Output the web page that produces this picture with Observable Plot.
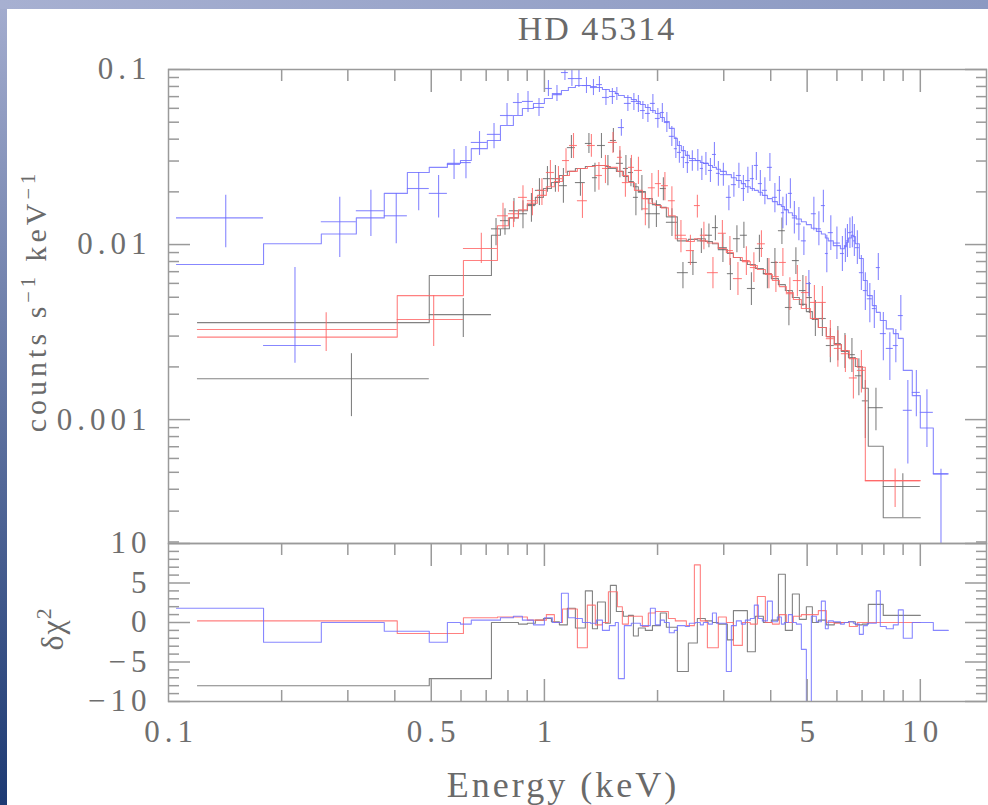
<!DOCTYPE html>
<html>
<head>
<meta charset="utf-8">
<script src="https://cdn.jsdelivr.net/npm/d3@7"></script>
<script src="https://cdn.jsdelivr.net/npm/@observablehq/plot@0.6"></script>
<style>
  html, body { margin: 0; padding: 0; background: #fff; }
  #page { position: relative; width: 988px; height: 805px; overflow: hidden; background: #fff; }
  #leftband { position: absolute; left: 0; top: 0; width: 7px; height: 805px; background: linear-gradient(to bottom, #a4adcf, #1d3a73); }
  #topband { position: absolute; left: 0; top: 0; width: 988px; height: 9px; background: linear-gradient(to right, #a7b0d1, #8b99c2); }
  .abs { position: absolute; white-space: nowrap; font-family: "Liberation Serif", serif; color: #6a6a6a; }
  .abs sup { font-size: 0.68em; vertical-align: 0.55em; line-height: 0; }
  .plot { position: absolute; left: 0; }
  .plot svg { overflow: visible; }
</style>
</head>
<body>
<div id="page">
  <div id="leftband"></div>
  <div id="topband"></div>
</div>
<script>
// ---------------- DATA ----------------
// Energies in keV; rates in counts s^-1 keV^-1
// Black spectrum
const blackEdges = [0.1194, 0.494, 0.723, 0.764, 0.807, 0.853, 0.901, 0.9464, 0.9939, 1.044, 1.096, 1.151, 1.209, 1.285, 1.342, 1.384, 1.453, 1.498, 1.554, 1.622, 1.673, 1.725, 1.778, 1.856, 1.938, 2.034, 2.111, 2.258, 2.415, 2.552, 2.68, 2.799, 2.902, 3.067, 3.183, 3.321, 3.467, 3.641, 3.824, 4.015, 4.193, 4.375, 4.567, 4.767, 4.976, 5.162, 5.355, 5.623, 5.905, 6.165, 6.44, 6.717, 7.011, 7.272, 7.97, 10];
const blackRate = [0.00171, 0.00398, 0.0123, 0.0137, 0.0156, 0.015, 0.0167, 0.0204, 0.0238, 0.0238, 0.0217, 0.0358, 0.0226, 0.0378, 0.0241, 0.0368, 0.0272, 0.0393, 0.0291, 0.0272, 0.0258, 0.0186, 0.0199, 0.015, 0.015, 0.0209, 0.0134, 0.00691, 0.0079, 0.0105, 0.0113, 0.0125, 0.0096, 0.00682, 0.0108, 0.0113, 0.00561, 0.0095, 0.00682, 0.0079, 0.012, 0.00437, 0.0081, 0.00546, 0.00498, 0.00378, 0.00378, 0.00265, 0.00272, 0.00248, 0.00235, 0.00178, 0.00128, 0.00117, 0.000415];
const blackErrHigh = [0.00238, 0.00492, 0.0141, 0.016, 0.0183, 0.0178, 0.0196, 0.0238, 0.0279, 0.0283, 0.0272, 0.042, 0.0272, 0.0431, 0.0291, 0.0431, 0.0323, 0.046, 0.0344, 0.0323, 0.031, 0.0223, 0.0248, 0.0183, 0.0178, 0.0241, 0.016, 0.0079, 0.00924, 0.0123, 0.0131, 0.0146, 0.0115, 0.00832, 0.0128, 0.0134, 0.00691, 0.0113, 0.00832, 0.0095, 0.0142, 0.00546, 0.0096, 0.00665, 0.00607, 0.00479, 0.00467, 0.00331, 0.0034, 0.0031, 0.00291, 0.00223, 0.00167, 0.00151, 0.00049];
const blackErrLow = [0.00104, 0.00294, 0.00986, 0.0113, 0.0134, 0.0123, 0.0134, 0.0167, 0.0199, 0.0199, 0.0172, 0.031, 0.0189, 0.0331, 0.0199, 0.031, 0.0217, 0.0336, 0.0241, 0.0226, 0.0214, 0.0146, 0.0156, 0.0123, 0.0125, 0.0178, 0.0111, 0.0056, 0.00665, 0.00889, 0.0096, 0.0105, 0.0079, 0.00546, 0.00899, 0.0095, 0.00448, 0.0079, 0.0056, 0.00656, 0.01, 0.00344, 0.00674, 0.00442, 0.00404, 0.00298, 0.00298, 0.00211, 0.00217, 0.00196, 0.00186, 0.00137, 0.00078, 0.000865, 0.000275];
const blackModel = [0.00358, 0.00665, 0.0113, 0.0123, 0.0142, 0.0156, 0.0169, 0.0186, 0.0209, 0.0226, 0.0248, 0.0262, 0.0272, 0.0279, 0.0283, 0.0283, 0.0279, 0.0272, 0.0262, 0.0245, 0.0229, 0.0214, 0.0201, 0.0183, 0.0169, 0.0163, 0.0144, 0.0105, 0.0107, 0.0108, 0.0104, 0.0101, 0.00935, 0.00889, 0.00843, 0.0081, 0.00769, 0.0073, 0.00682, 0.00639, 0.0059, 0.00546, 0.00498, 0.00455, 0.00414, 0.00373, 0.00336, 0.00298, 0.00268, 0.00245, 0.00226, 0.00201, 0.00151, 0.000705, 0.000275];
const blackDelChi = [-8, -7.1, 0, 0, 0, -0.2, -0.1, 0.3, 0.5, 0.1, -0.3, 1.8, -0.7, 4, -0.8, 2.6, -0.1, 4.7, 1.4, 0.8, 0.9, -1.7, -0.7, -1.0, -0.4, 1.2, -0.6, -6.2, -2.6, 0.5, 0.2, 0, -0.2, -2.2, 1.5, 1.5, -3.7, 0.8, 0, 0.3, 6.1, -1.0, 3.6, 0.4, 2, 0, 0.3, -0.3, 0, 0, 0.1, -0.3, -0.2, 2.3, 0.9];

// Red spectrum
const redEdges = [0.1194, 0.406, 0.609, 0.75, 0.802, 0.853, 0.901, 0.958, 1.012, 1.063, 1.117, 1.166, 1.224, 1.301, 1.366, 1.427, 1.48, 1.564, 1.612, 1.673, 1.736, 1.822, 1.89, 1.973, 2.047, 2.137, 2.23, 2.386, 2.506, 2.599, 2.714, 2.902, 3.048, 3.183, 3.362, 3.53, 3.686, 3.871, 4.041, 4.217, 4.402, 4.594, 4.826, 5.10, 5.355, 5.623, 5.905, 6.165, 6.476, 6.8, 7.141, 10];
const redRate = [0.00327, 0.00373, 0.0095, 0.0146, 0.015, 0.0186, 0.0178, 0.0204, 0.0258, 0.0238, 0.0302, 0.0368, 0.0178, 0.0368, 0.0248, 0.0272, 0.0383, 0.0315, 0.0226, 0.0276, 0.0265, 0.016, 0.0211, 0.0223, 0.0217, 0.0178, 0.0113, 0.00924, 0.0167, 0.0113, 0.00691, 0.0116, 0.00924, 0.00639, 0.0081, 0.00739, 0.0101, 0.00682, 0.00656, 0.0079, 0.00524, 0.00623, 0.00532, 0.00467, 0.00467, 0.0029, 0.00255, 0.00238, 0.00173, 0.00191, 0.000448];
const redErrHigh = [0.00408, 0.00511, 0.0116, 0.0172, 0.0176, 0.0217, 0.0209, 0.0238, 0.0302, 0.0279, 0.0353, 0.0431, 0.0223, 0.0425, 0.0294, 0.0323, 0.0437, 0.0363, 0.0272, 0.0323, 0.0315, 0.0196, 0.0255, 0.0265, 0.0258, 0.0214, 0.0137, 0.0113, 0.0191, 0.0134, 0.00843, 0.0137, 0.0111, 0.0079, 0.00973, 0.00899, 0.012, 0.00832, 0.008, 0.0095, 0.00647, 0.00759, 0.00656, 0.00583, 0.00575, 0.00368, 0.00322, 0.00302, 0.00226, 0.00248, 0.000523];
const redErrLow = [0.00245, 0.00262, 0.0078, 0.0123, 0.0125, 0.0152, 0.0146, 0.0167, 0.0214, 0.0199, 0.0255, 0.031, 0.0141, 0.0315, 0.0204, 0.0223, 0.0331, 0.0265, 0.0186, 0.0232, 0.022, 0.0128, 0.0174, 0.0186, 0.0178, 0.0146, 0.00899, 0.00759, 0.0142, 0.00935, 0.0056, 0.0096, 0.00759, 0.00511, 0.00665, 0.00607, 0.00843, 0.0056, 0.00532, 0.00656, 0.0042, 0.00504, 0.00425, 0.00368, 0.00368, 0.00226, 0.00199, 0.00186, 0.00131, 0.00142, 0.000315];
const redModel = [0.00296, 0.00511, 0.0081, 0.0128, 0.0142, 0.0158, 0.0172, 0.0191, 0.0214, 0.0229, 0.0248, 0.0262, 0.0272, 0.0279, 0.0283, 0.0283, 0.0276, 0.0262, 0.0248, 0.0226, 0.0204, 0.0183, 0.0172, 0.0167, 0.0162, 0.0146, 0.0108, 0.0104, 0.0108, 0.0105, 0.0102, 0.0095, 0.009, 0.00843, 0.00799, 0.00759, 0.0072, 0.00674, 0.00623, 0.00575, 0.00532, 0.00485, 0.00431, 0.00378, 0.00336, 0.00298, 0.00268, 0.00248, 0.00223, 0.00199, 0.000448];
const redDelChi = [0.2, -1.4, 0.6, 0.7, 0.7, 0.7, 0.3, 0.3, 1, 0, 1.7, 1.7, -3.2, 2.2, -0.3, 0, 3.9, 2, -0.2, 0.8, 0.8, -0.5, 1.2, 1.4, 1.4, 0.5, 0.2, -0.4, 7.3, 0.2, -3.2, 0.7, 0, -2.9, 0, -0.2, 3.3, 0, -0.2, 1, 0, 0.8, 1, 1, 1.5, 0, -0.1, 0, -0.5, 0, 0];

// Blue spectrum
const blueEdges = [0.105, 0.179, 0.255, 0.316, 0.375, 0.432, 0.494, 0.552, 0.598, 0.639, 0.705, 0.764, 0.827, 0.874, 0.935, 1.0, 1.05, 1.11, 1.158, 1.209, 1.262, 1.326, 1.375, 1.427, 1.489, 1.544, 1.573, 1.632, 1.703, 1.757, 1.8, 1.856, 1.914, 1.973, 2.034, 2.085, 2.149, 2.216, 2.258, 2.314, 2.371, 2.43, 2.52, 2.599, 2.648, 2.731, 2.799, 2.868, 2.938, 3.048, 3.143, 3.241, 3.342, 3.425, 3.53, 3.618, 3.708, 3.8, 3.919, 4.041, 4.166, 4.27, 4.349, 4.457, 4.567, 4.68, 4.826, 4.976, 5.13, 5.29, 5.455, 5.59, 5.69, 5.87, 6.13, 6.28, 6.36, 6.44, 6.556, 6.636, 6.717, 6.884, 7.054, 7.228, 7.453, 7.638, 7.827, 8.12, 8.476, 8.74, 9.01, 9.52, 10, 10.83, 11.87];
const blueRate = [0.0142, 0.00265, 0.0135, 0.0156, 0.0146, 0.0209, 0.0196, 0.0287, 0.0294, 0.0383, 0.0426, 0.0546, 0.0648, 0.0657, 0.0607, 0.0779, 0.0729, 0.0961, 0.0888, 0.0888, 0.081, 0.0789, 0.082, 0.0692, 0.0701, 0.0729, 0.0466, 0.064, 0.0657, 0.064, 0.0583, 0.0561, 0.064, 0.0525, 0.0568, 0.0498, 0.0415, 0.0353, 0.0336, 0.0315, 0.0294, 0.0302, 0.0302, 0.0272, 0.0291, 0.0265, 0.0327, 0.0255, 0.0251, 0.0186, 0.022, 0.0248, 0.0209, 0.0232, 0.0238, 0.0283, 0.0223, 0.0204, 0.0276, 0.0186, 0.0204, 0.0152, 0.0158, 0.0196, 0.0142, 0.0131, 0.0105, 0.00599, 0.015, 0.0123, 0.0167, 0.00889, 0.0117, 0.0102, 0.00889, 0.00986, 0.0105, 0.0117, 0.0118, 0.0105, 0.0096, 0.00691, 0.00546, 0.0049, 0.00431, 0.00739, 0.0031, 0.00255, 0.00265, 0.00393, 0.00113, 0.00143, 0.0011, 0.00049];
const blueErrHigh = [0.0191, 0.00739, 0.0186, 0.0204, 0.0196, 0.0258, 0.0248, 0.0349, 0.0363, 0.0442, 0.0492, 0.064, 0.0729, 0.0749, 0.0683, 0.0865, 0.081, 0.1096, 0.0987, 0.0987, 0.09, 0.0877, 0.0912, 0.0769, 0.0779, 0.0789, 0.0518, 0.071, 0.0729, 0.071, 0.0657, 0.0631, 0.0719, 0.0599, 0.064, 0.0568, 0.0473, 0.041, 0.0388, 0.0363, 0.034, 0.0344, 0.0349, 0.0319, 0.0336, 0.031, 0.0383, 0.0298, 0.0291, 0.0217, 0.0258, 0.0291, 0.0248, 0.0276, 0.0283, 0.0336, 0.0265, 0.0241, 0.0331, 0.0223, 0.0245, 0.0186, 0.0194, 0.0238, 0.0176, 0.0163, 0.0126, 0.0071, 0.0186, 0.0154, 0.0204, 0.0113, 0.0146, 0.0126, 0.0111, 0.0123, 0.013, 0.0142, 0.0144, 0.013, 0.012, 0.00865, 0.00691, 0.00599, 0.00546, 0.00889, 0.00409, 0.00313, 0.00327, 0.00511, 0.00167, 0.00191, 0.00148, 0.00052];
const blueErrLow = [0.0096, 0.0021, 0.00843, 0.0111, 0.0101, 0.0156, 0.0142, 0.0235, 0.0238, 0.0323, 0.0353, 0.0479, 0.0546, 0.0568, 0.0539, 0.0701, 0.0656, 0.0865, 0.08, 0.0789, 0.0729, 0.071, 0.0739, 0.0623, 0.0631, 0.0665, 0.0415, 0.0575, 0.0583, 0.0568, 0.0518, 0.0498, 0.0561, 0.0461, 0.0498, 0.0437, 0.0363, 0.031, 0.0291, 0.0272, 0.0255, 0.0262, 0.0262, 0.0232, 0.0248, 0.0226, 0.0279, 0.0215, 0.0215, 0.0156, 0.0186, 0.0209, 0.0176, 0.0196, 0.0201, 0.0232, 0.0189, 0.0169, 0.0229, 0.0152, 0.0167, 0.0123, 0.0128, 0.016, 0.0115, 0.0105, 0.00865, 0.00504, 0.012, 0.00986, 0.0133, 0.00691, 0.00924, 0.00821, 0.00701, 0.0079, 0.00843, 0.00949, 0.0096, 0.00854, 0.00769, 0.00546, 0.0042, 0.00357, 0.00331, 0.00623, 0.00217, 0.00167, 0.00211, 0.00322, 0.000557, 0.00104, 0.000693, 0.0001];
const blueModel = [0.00769, 0.0101, 0.0115, 0.0142, 0.0196, 0.0258, 0.0276, 0.0291, 0.0302, 0.0353, 0.0393, 0.0479, 0.0546, 0.0599, 0.064, 0.0683, 0.0719, 0.0759, 0.0789, 0.081, 0.081, 0.08, 0.0789, 0.0769, 0.0749, 0.0729, 0.071, 0.0692, 0.0674, 0.0657, 0.0631, 0.0607, 0.0583, 0.0561, 0.0532, 0.0505, 0.0461, 0.0404, 0.0368, 0.0344, 0.0323, 0.031, 0.0302, 0.0294, 0.0291, 0.0283, 0.0276, 0.0269, 0.0262, 0.0251, 0.0241, 0.0232, 0.0223, 0.0214, 0.0209, 0.0204, 0.0199, 0.0191, 0.0183, 0.0176, 0.0169, 0.0165, 0.0158, 0.0152, 0.0146, 0.014, 0.0135, 0.013, 0.0124, 0.0119, 0.0115, 0.0109, 0.0105, 0.00986, 0.00947, 0.00973, 0.0103, 0.0109, 0.0113, 0.0111, 0.0101, 0.00832, 0.00623, 0.00511, 0.00448, 0.0041, 0.00368, 0.0033, 0.0031, 0.00291, 0.00191, 0.00137, 0.000896, 0.00049];
const blueDelChi = [1.8, -2.5, 0, 0, -1.1, -1.1, -2.5, 0, -0.2, 0.3, 0.3, 0.6, 0.8, 0.3, -0.3, 0.6, 0, 3.7, 0.6, 0.5, 0, -0.1, 0.3, -1.0, -0.4, 0, -7.1, -0.4, -0.1, -0.1, -0.4, -0.4, 1.8, -0.3, 0.3, 0, -1.3, -1.0, -0.4, -0.4, -0.5, -0.1, 0, -0.3, 0, -0.2, 1.2, -0.1, -0.1, -6.2, -0.4, 0.2, -0.2, 0.3, 0.5, 2.2, 0.5, 0.2, 2.7, 0.1, 0.7, -0.2, 0, 1.0, 0, -0.2, -3.4, -20, 0.8, 0.1, 2.7, -0.8, 0.2, 0.1, -0.2, 0, 0, 0.1, 0.1, -0.1, -0.2, -1.5, -0.4, -0.1, -0.1, 4, -0.5, -0.8, -0.3, 1.6, -2, 0, 0, -1];

// Axis ticks and labels
const xDomain = [0.1, 15];
const xLabelTicks = [0.1, 0.5, 1, 5, 10];
const xMajorTicks = [0.5, 1, 5, 10];
const xMinorTicks = [0.2, 0.3, 0.4, 0.6, 0.7, 0.8, 0.9, 2, 3, 4, 6, 7, 8, 9];
const yDomainTop = [0.000196, 0.1];
const yMajorTicksTop = [0.1, 0.01, 0.001];
const yLabelsTop = ["0.1", "0.01", "0.001"];
const yMinorTicksTop = [0.0002, 0.0003, 0.0004, 0.0005, 0.0006, 0.0007, 0.0008, 0.0009, 0.002, 0.003, 0.004, 0.005, 0.006, 0.007, 0.008, 0.009, 0.02, 0.03, 0.04, 0.05, 0.06, 0.07, 0.08, 0.09];
const yDomainBottom = [-10, 10];
const yMajorTicksBottom = [-10, -5, 0, 5, 10];
const yLabelsBottom = ["\u221210", "\u22125", "0", "5", "10"];
const yMinorTicksBottom = [-9, -8, -7, -6, -4, -3, -2, -1, 1, 2, 3, 4, 6, 7, 8, 9];

const titleText = "HD 45314";
const yTitleTop = 'counts s<sup>\u22121</sup> keV<sup>\u22121</sup>';
const yTitleBottom = '\u03b4\u03c7<sup>2</sup>';
const xTitleText = "Energy (keV)";

// ---------------- BUILD ----------------
function makeBins(edges, rate, errLow, errHigh, model, delchi) {
  return rate.map((r, i) => ({
    lo: edges[i], hi: edges[i + 1], c: (edges[i] + edges[i + 1]) / 2,
    r, el: errLow[i], eh: errHigh[i], m: model[i], d: delchi[i]
  }));
}
function steps(bins, key) {
  return bins.flatMap(b => [{x: b.lo, y: b[key]}, {x: b.hi, y: b[key]}]);
}
const sets = [
  {color: "#666666", bins: makeBins(blackEdges, blackRate, blackErrLow, blackErrHigh, blackModel, blackDelChi)},
  {color: "#ff6464", bins: makeBins(redEdges, redRate, redErrLow, redErrHigh, redModel, redDelChi)},
  {color: "#6c6cff", bins: makeBins(blueEdges, blueRate, blueErrLow, blueErrHigh, blueModel, blueDelChi)}
];
const lw = 1.1, op = 0.82;
const tickColor = "#9a9a9a";
const textColor = "#6e6e6e";
const font = "Liberation Serif";
const fs = "31px";
const ls = "5px";

const noText = () => "";
function frameTicksX(major, minor, anchors) {
  const out = [];
  for (const a of anchors) {
    out.push(Plot.axisX({ticks: major, anchor: a, tickSize: -22, tickFormat: noText, stroke: tickColor, strokeWidth: 1.5, label: null}));
    out.push(Plot.axisX({ticks: minor, anchor: a, tickSize: -11, tickFormat: noText, stroke: tickColor, strokeWidth: 1.5, label: null}));
  }
  return out;
}
function frameTicksY(major, minor) {
  const out = [];
  for (const a of ["left", "right"]) {
    out.push(Plot.axisY({ticks: major, anchor: a, tickSize: -22, tickFormat: noText, stroke: tickColor, strokeWidth: 1.5, label: null}));
    out.push(Plot.axisY({ticks: minor, anchor: a, tickSize: -11, tickFormat: noText, stroke: tickColor, strokeWidth: 1.5, label: null}));
  }
  return out;
}
const plotStyle = {background: "none", fontFamily: font, fontSize: fs, letterSpacing: ls, color: textColor, overflow: "visible"};

const topPlot = Plot.plot({
  width: 988, height: 545,
  marginLeft: 168, marginRight: 2, marginTop: 69, marginBottom: 2,
  x: {type: "log", domain: xDomain},
  y: {type: "log", domain: yDomainTop},
  style: plotStyle,
  marks: [
    ...sets.flatMap(s => [
      Plot.line(steps(s.bins, "m"), {x: "x", y: "y", stroke: s.color, strokeWidth: lw, strokeOpacity: op, clip: true}),
      Plot.ruleY(s.bins, {y: "r", x1: "lo", x2: "hi", stroke: s.color, strokeWidth: lw, strokeOpacity: op, clip: true}),
      Plot.ruleX(s.bins, {x: "c", y1: "el", y2: "eh", stroke: s.color, strokeWidth: lw, strokeOpacity: op, clip: true})
    ]),
    Plot.frame({stroke: tickColor, strokeWidth: 1.5}),
    ...frameTicksX(xMajorTicks, xMinorTicks, ["top"]),
    ...frameTicksY(yMajorTicksTop, yMinorTicksTop),
    Plot.axisY({ticks: yMajorTicksTop, anchor: "left", tickSize: 0, tickPadding: 17,
      tickFormat: d => yLabelsTop[yMajorTicksTop.indexOf(d)], fill: textColor, label: null})
  ]
});

const bottomPlot = Plot.plot({
  width: 988, height: 285,
  marginLeft: 168, marginRight: 2, marginTop: 23, marginBottom: 104,
  x: {type: "log", domain: xDomain},
  y: {domain: yDomainBottom},
  style: plotStyle,
  marks: [
    ...sets.map(s => Plot.line(steps(s.bins, "d"), {x: "x", y: "y", stroke: s.color, strokeWidth: lw, strokeOpacity: op, clip: true})),
    Plot.frame({stroke: tickColor, strokeWidth: 1.5}),
    ...frameTicksX(xMajorTicks, xMinorTicks, ["top", "bottom"]),
    ...frameTicksY(yMajorTicksBottom, yMinorTicksBottom),
    Plot.axisY({ticks: yMajorTicksBottom, anchor: "left", tickSize: 0, tickPadding: 17,
      tickFormat: d => yLabelsBottom[yMajorTicksBottom.indexOf(d)], fill: textColor, label: null}),
    Plot.axisX({ticks: xLabelTicks, anchor: "bottom", tickSize: 0, tickPadding: 18, dx: 2.5,
      tickFormat: d => String(d), fill: textColor, label: null})
  ]
});

const page = document.getElementById("page");
const topWrap = document.createElement("div");
topWrap.className = "plot"; topWrap.style.top = "0px";
topWrap.append(topPlot);
const botWrap = document.createElement("div");
botWrap.className = "plot"; botWrap.style.top = "520px";
botWrap.append(bottomPlot);
page.append(topWrap, botWrap);

function addText(html, cx, cy, size, spacing, rotate) {
  const d = document.createElement("div");
  d.className = "abs";
  d.innerHTML = html;
  d.style.left = cx + "px";
  d.style.top = cy + "px";
  d.style.fontSize = size + "px";
  d.style.letterSpacing = spacing + "px";
  d.style.lineHeight = "1";
  d.style.transform = "translate(-50%, -50%)" + (rotate ? " rotate(-90deg)" : "");
  page.append(d);
  return d;
}
addText(titleText, 597, 29, 34, 2, false);
addText(yTitleTop, 36, 301, 30, 4, true);
addText(yTitleBottom, 52, 629, 32, 1, true);
addText(xTitleText, 563, 785, 36, 3, false);
</script>
</body>
</html>
